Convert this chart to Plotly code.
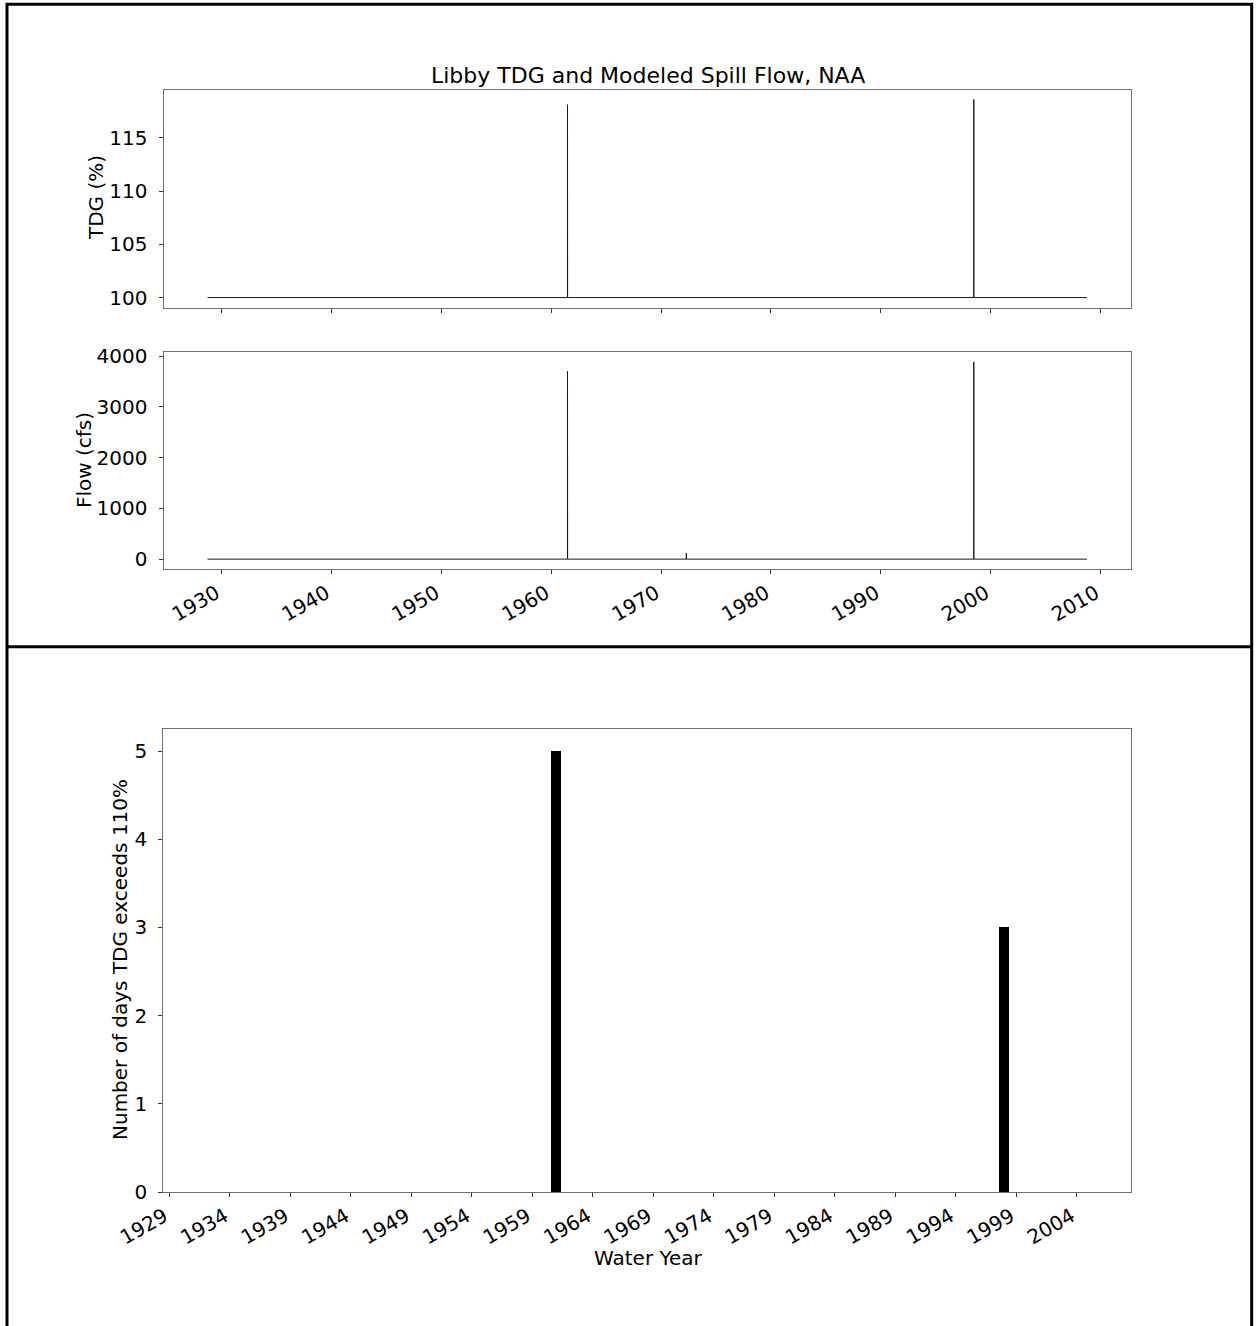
import plotly.graph_objects as go

W, H = 1257, 1326

# ---------------- data ----------------
# TDG (%) series: flat 100 % baseline with two short spill events (daily points)
tdg_dates = ["1928-10-01",
             "1961-06-28", "1961-06-29", "1961-06-30", "1961-07-01", "1961-07-02", "1961-07-03", "1961-07-04",
             "1998-06-12", "1998-06-13", "1998-06-14", "1998-06-15", "1998-06-16",
             "2008-09-30"]
tdg_values = [100.0,
              100.0, 115.2, 118.1, 117.4, 116.0, 113.1, 100.0,
              100.0, 116.8, 118.6, 115.5, 100.0,
              100.0]

# Modeled spill flow (cfs)
flow_dates = ["1928-10-01",
              "1961-06-28", "1961-06-29", "1961-06-30", "1961-07-01", "1961-07-02", "1961-07-03", "1961-07-04",
              "1972-04-20", "1972-04-21", "1972-04-22",
              "1998-06-12", "1998-06-13", "1998-06-14", "1998-06-15", "1998-06-16",
              "2008-09-30"]
flow_values = [0,
               0, 3000, 3706, 3500, 3200, 2600, 0,
               0, 120, 0,
               0, 3400, 3888, 3100, 0,
               0]

# Days per water year with TDG > 110 %
water_years = list(range(1929, 2009))
exceed_by_year = {1961: 5, 1998: 3}
exceed_days = [exceed_by_year.get(y, 0) for y in water_years]

decade_ticks = ["1930", "1940", "1950", "1960", "1970", "1980", "1990", "2000", "2010"]
bottom_ticks = list(range(1929, 2005, 5))

# ---------------- figure ----------------
def px_x(x):
    return x / W

def px_y(y):
    return 1 - y / H

FONT = "DejaVu Sans"
TICK_FONT = dict(family=FONT, size=20, color="black")
LABEL_FONT = dict(family=FONT, size=20, color="black")
FRAME = "#6f6f6f"

fig = go.Figure()
fig.add_trace(go.Scatter(x=tdg_dates, y=tdg_values, mode="lines",
                         line=dict(color="#1a1a1a", width=1), xaxis="x", yaxis="y",
                         showlegend=False))
fig.add_trace(go.Scatter(x=flow_dates, y=flow_values, mode="lines",
                         line=dict(color="#1a1a1a", width=1), xaxis="x2", yaxis="y2",
                         showlegend=False))
fig.add_trace(go.Bar(x=water_years, y=exceed_days, width=0.8,
                     marker=dict(color="black", line=dict(width=0)),
                     xaxis="x3", yaxis="y3", showlegend=False))

xdom = [px_x(163.5), px_x(1131)]
common_ax = dict(showline=True, linecolor=FRAME, linewidth=1, mirror=True,
                 showgrid=False, zeroline=False, ticks="outside", ticklen=4,
                 tickwidth=1.3, tickcolor="#333333", tickfont=TICK_FONT,
                 automargin=False)
y_ax = dict(common_ax, ticklabelstandoff=7)
x_ax = dict(common_ax, ticklabelshift=-5)

xrange_dates = ["1924-09-30", "2012-09-30"]
decade_vals = [d + "-01-01" for d in decade_ticks]

fig.update_layout(
    template="none",
    width=W, height=H,
    margin=dict(l=0, r=0, t=0, b=0, pad=0),
    paper_bgcolor="white", plot_bgcolor="white",
    font=dict(family=FONT, color="black"),
    showlegend=False,
    xaxis=dict(domain=xdom, anchor="y", type="date", range=xrange_dates,
               tickvals=decade_vals, showticklabels=False, **common_ax),
    yaxis=dict(domain=[px_y(307.5), px_y(89.5)], anchor="x", range=[99.07, 119.53],
               tickvals=[100, 105, 110, 115], **y_ax),
    xaxis2=dict(domain=xdom, anchor="y2", type="date", range=xrange_dates,
                tickvals=decade_vals, ticktext=decade_ticks, tickangle=-30, **x_ax),
    yaxis2=dict(domain=[px_y(569), px_y(352)], anchor="x2", range=[-194.4, 4082.4],
                tickvals=[0, 1000, 2000, 3000, 4000], **y_ax),
    xaxis3=dict(domain=[px_x(163.3), px_x(1131)], anchor="y3", range=[1928.5, 2008.5],
                tickvals=bottom_ticks, ticktext=[str(y) for y in bottom_ticks],
                tickangle=-30, **x_ax),
    yaxis3=dict(domain=[px_y(1192), px_y(729)], anchor="x3", range=[0, 5.25],
                tickvals=[0, 1, 2, 3, 4, 5], **y_ax),
    bargap=0,
)

annos = [
    dict(text="Libby TDG and Modeled Spill Flow, NAA", x=px_x(648), y=px_y(75),
         font=dict(family=FONT, size=22, color="black")),
    dict(text="TDG (%)", x=px_x(96), y=px_y(198), textangle=-90, font=LABEL_FONT),
    dict(text="Flow (cfs)", x=px_x(84), y=px_y(460), textangle=-90, font=LABEL_FONT),
    dict(text="Number of days TDG exceeds 110%", x=px_x(120), y=px_y(960), textangle=-90,
         font=LABEL_FONT),
    dict(text="Water Year", x=px_x(648), y=px_y(1258), font=LABEL_FONT),
]
for a in annos:
    fig.add_annotation(xref="paper", yref="paper", showarrow=False,
                       xanchor="center", yanchor="middle", **a)

# outer frame lines of the composite image
border = dict(color="black", width=3)
fig.add_shape(type="line", xref="paper", yref="paper", x0=px_x(6), x1=px_x(1253),
              y0=px_y(4.3), y1=px_y(4.3), line=border)
fig.add_shape(type="line", xref="paper", yref="paper", x0=px_x(7), x1=px_x(7),
              y0=px_y(3), y1=0, line=border)
fig.add_shape(type="line", xref="paper", yref="paper", x0=px_x(1251.7), x1=px_x(1251.7),
              y0=px_y(3), y1=0, line=border)
fig.add_shape(type="line", xref="paper", yref="paper", x0=px_x(6), x1=px_x(1253),
              y0=px_y(646.7), y1=px_y(646.7), line=border)

fig.write_html("out.html")
